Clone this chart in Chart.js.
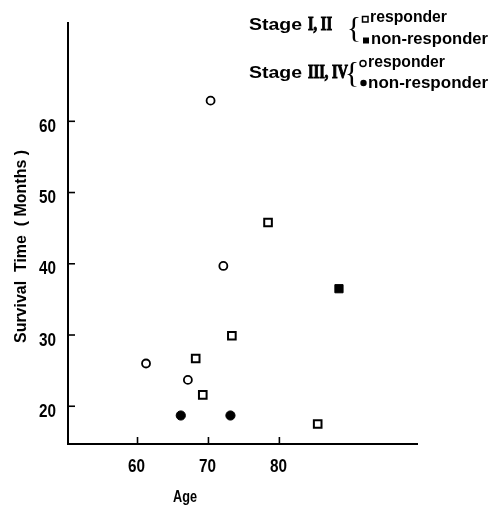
<!DOCTYPE html>
<html>
<head>
<meta charset="utf-8">
<script src="https://cdn.jsdelivr.net/npm/chart.js@4"></script>
<style>
html,body{margin:0;padding:0;background:#fff;}
#wrap{width:495px;height:507px;position:relative;}
</style>
</head>
<body>
<div id="wrap"><canvas id="survChart"></canvas></div>
<script>
// data
const ageTicks=[60,70,80];
const survTicks=[20,30,40,50,60];

const early_resp_age=[78.4,73.3,68.2,69.2,85.4];
const early_resp_surv=[45.8,29.9,26.7,21.6,17.5];
const early_non_age=[88.4];
const early_non_surv=[36.5];
const late_resp_age=[70.3,72.1,61.2,67.1];
const late_resp_surv=[62.9,39.7,26.0,23.7];
const late_non_age=[66.1,73.1];
const late_non_surv=[18.7,18.7];

const SANS='"Liberation Sans",Arial,sans-serif';
const SERIF='"Liberation Serif","Times New Roman",serif';

function pts(xs,ys){
return xs.map((x,i)=>({x:x,y:ys[i]}));
}

// squeeze text to a given width (the original uses a condensed face)
function fitText(c,txt,x,y,w,align,heavy){
const m=c.measureText(txt).width;
c.save();
c.translate(x,y);
c.scale(w/m,1);
c.textAlign=align||'left';
c.fillText(txt,0,0);
if(heavy){c.lineWidth=heavy;c.strokeText(txt,0,0);}
c.restore();
}

// inner tick marks, tick labels, titles, legend
const extras={
id:'extras',
afterDraw(chart){
const c=chart.ctx;
const xs=chart.scales.x, ys=chart.scales.y;
const a=chart.chartArea;
c.save();
c.strokeStyle='#000';
c.fillStyle='#000';
c.lineWidth=1.6;
c.textBaseline='alphabetic';
c.font='bold 19px '+SANS;
ys.ticks.forEach(t=>{
const p=ys.getPixelForValue(t.value);
c.beginPath();c.moveTo(a.left,p);c.lineTo(a.left+7,p);c.stroke();
const lab=String(t.value);
fitText(c,lab,56,p+10.5,8.5*lab.length,'right');
});
xs.ticks.forEach(t=>{
const p=xs.getPixelForValue(t.value);
c.beginPath();c.moveTo(p,a.bottom);c.lineTo(p,a.bottom-7);c.stroke();
const lab=String(t.value);
fitText(c,lab,p-1,471.5,8.5*lab.length,'center');
});

c.font='bold 17px '+SANS;
fitText(c,'Age',185,502,24,'center');

c.save();
c.translate(26,246.5);
c.rotate(-Math.PI/2);
fitText(c,'Survival  Time  ( Months )',0,0,193,'center');
c.restore();

// legend
c.font='bold 16px '+SANS;
fitText(c,'Stage',249,29.5,53);
fitText(c,'Stage',249,77.5,53);
c.font='bold 18px '+SERIF;
fitText(c,'I, II',308,29.5,24,'left',1);
fitText(c,'III, IV',308,77.5,40,'left',1);

c.font='30px '+SERIF;
c.textBaseline='middle';
c.textAlign='center';
c.fillText('{',354,29);
c.fillText('{',352,74);
c.textBaseline='alphabetic';

c.font='bold 16px '+SANS;
fitText(c,'responder',370,21.7,77);
fitText(c,'non-responder',371,44.3,117);
fitText(c,'responder',368,66.7,77);
fitText(c,'non-responder',368,88.3,120);

c.lineWidth=1.5;
c.strokeRect(362.5,16.5,5.5,5.5);
c.fillRect(363,37.5,6,6);
c.beginPath();c.arc(363,63.5,3,0,Math.PI*2);c.stroke();
c.beginPath();c.arc(363.5,83,3.2,0,Math.PI*2);c.fill();
c.restore();
}
};

const ctx=document.getElementById('survChart');

new Chart(ctx,{
type:'scatter',
data:{
datasets:[
{label:'Stage I, II responder',data:pts(early_resp_age,early_resp_surv),pointStyle:'rect',radius:5.4,backgroundColor:'#fff',borderColor:'#000',borderWidth:2},
{label:'Stage I, II non-responder',data:pts(early_non_age,early_non_surv),pointStyle:'rect',radius:5.8,backgroundColor:'#000',borderColor:'#000',borderWidth:1},
{label:'Stage III, IV responder',data:pts(late_resp_age,late_resp_surv),pointStyle:'circle',radius:4,backgroundColor:'#fff',borderColor:'#000',borderWidth:1.8},
{label:'Stage III, IV non-responder',data:pts(late_non_age,late_non_surv),pointStyle:'circle',radius:4.6,backgroundColor:'#000',borderColor:'#000',borderWidth:1}
]
},
options:{
responsive:true,
maintainAspectRatio:false,
animation:false,
layout:{padding:{top:23,right:78,left:0,bottom:0}},
plugins:{legend:{display:false},tooltip:{enabled:false}},
scales:{
x:{
type:'linear',min:50.2,max:99.4,
grid:{display:true,drawOnChartArea:false,drawTicks:false},
border:{display:true,color:'#000',width:2},
afterBuildTicks:s=>{s.ticks=ageTicks.map(v=>({value:v}));},
afterFit:s=>{s.height=63;},
ticks:{display:false}
},
y:{
type:'linear',min:14.7,max:73.8,
grid:{display:true,drawOnChartArea:false,drawTicks:false},
border:{display:true,color:'#000',width:2},
afterBuildTicks:s=>{s.ticks=survTicks.map(v=>({value:v}));},
afterFit:s=>{s.width=68;},
ticks:{display:false}
}
}
},
plugins:[extras]
});
</script>
</body>
</html>
